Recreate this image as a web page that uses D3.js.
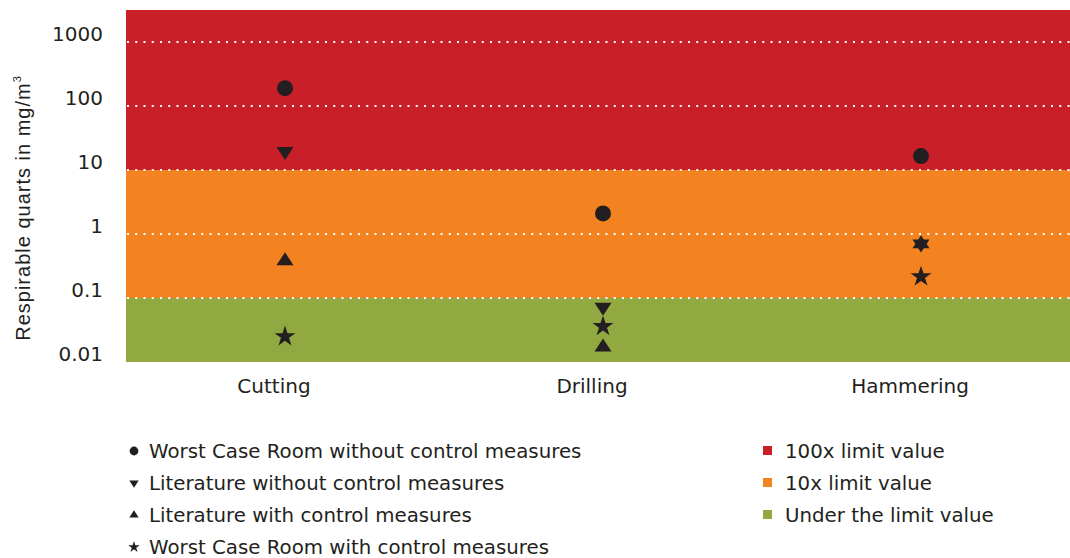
<!DOCTYPE html>
<html>
<head>
<meta charset="utf-8">
<script src="https://cdn.jsdelivr.net/npm/d3@7"></script>
<style>
  html, body { margin: 0; padding: 0; background: #fff; }
  svg { display: block; }
  text { fill: #231f20; }
</style>
</head>
<body>
<svg id="chart" width="1070" height="558"></svg>
<script>
// Activities (x categories)
const categories = ["Cutting", "Drilling", "Hammering"];

// Respirable quartz concentrations in mg/m3, one value per activity
const worstCaseWithout = [190, 2.1, 16.5];
const literatureWithout = [19.5, 0.072, 0.70];
const literatureWith = [0.38, 0.017, 0.70];
const worstCaseWith = [0.025, 0.036, 0.215];

// Axis ticks
const tickValues = [0.01, 0.1, 1, 10, 100, 1000];
const tickLabels = ["0.01", "0.1", "1", "10", "100", "1000"];
const gridValues = [0.1, 1, 10, 100, 1000];

// Exposure zones: [lower, upper] bounds
const zoneNames = ["100x limit value", "10x limit value", "Under the limit value"];
const zoneBounds = [[10, 3162.28], [0.1, 10], [0.01, 0.1]];
const zoneColors = ["#c81f28", "#f38220", "#92a840"];

const seriesNames = [
  "Worst Case Room without control measures",
  "Literature without control measures",
  "Literature with control measures",
  "Worst Case Room with control measures"
];
const seriesValues = [worstCaseWithout, literatureWithout, literatureWith, worstCaseWith];
const seriesShapes = ["circle", "down", "up", "star"];

const FONT = "DejaVu Sans, Verdana, sans-serif";

const svg = d3.select("#chart");
const plot = { left: 126, right: 1080, top: 10, bottom: 362 };

const x = d3.scaleBand().domain(categories).range([plot.left, plot.right]);
const y = d3.scaleLog().domain([0.01, 3162.28]).range([plot.bottom, plot.top]);

svg.append("defs").append("clipPath").attr("id", "plotclip")
  .append("rect").attr("x", plot.left).attr("y", plot.top)
  .attr("width", plot.right - plot.left).attr("height", plot.bottom - plot.top);

const area = svg.append("g").attr("clip-path", "url(#plotclip)");

// Coloured zone bands
area.selectAll("rect.zone").data(zoneBounds).join("rect")
  .attr("class", "zone")
  .attr("x", plot.left)
  .attr("width", plot.right - plot.left)
  .attr("y", d => y(d[1]))
  .attr("height", d => y(d[0]) - y(d[1]))
  .attr("fill", (d, i) => zoneColors[i]);

// Dotted gridlines
area.selectAll("line.grid").data(gridValues).join("line")
  .attr("class", "grid")
  .attr("x1", plot.left + 1).attr("x2", plot.right)
  .attr("y1", d => y(d)).attr("y2", d => y(d))
  .attr("stroke", "#fff").attr("stroke-width", 2)
  .attr("stroke-dasharray", "2 6.25");

// Y tick labels (baseline sits on the gridline)
svg.append("g").selectAll("text").data(tickValues).join("text")
  .attr("x", 103).attr("y", d => y(d) - 1)
  .attr("text-anchor", "end")
  .attr("font-family", FONT)
  .attr("font-size", 20)
  .text((d, i) => tickLabels[i]);

// Y axis title
const yTitle = svg.append("text")
  .attr("transform", "translate(30,208) rotate(-90)")
  .attr("text-anchor", "middle")
  .attr("font-family", "Liberation Sans, Arial, sans-serif")
  .attr("font-size", 20)
  .attr("letter-spacing", 1);
yTitle.append("tspan").text("Respirable quarts in mg/m");
yTitle.append("tspan").attr("dy", -9).attr("font-size", 11).text("3");

// Category labels
svg.append("g").selectAll("text").data(categories).join("text")
  .attr("x", d => x(d) + x.bandwidth() / 2 - 11)
  .attr("y", 393)
  .attr("text-anchor", "middle")
  .attr("font-family", FONT)
  .attr("font-size", 20)
  .text(d => d);

// Marker shapes scaled by s; triangles are centred on their centroid
function shapePath(shape, s) {
  if (shape === "circle") return d3.symbol(d3.symbolCircle, Math.PI * (8 * s) ** 2)();
  if (shape === "star") return d3.symbol(d3.symbolStar, (11 * s) ** 2 / 0.8908130915)();
  const w = 8.5 * s, h = 13 * s;
  const a = (2 * h) / 3, b = h / 3;
  if (shape === "up") return `M0,${-a}L${w},${b}L${-w},${b}Z`;
  return `M${-w},${-b}L${w},${-b}L0,${a}Z`;
}

// Data markers
const markers = svg.append("g");
seriesValues.forEach((vals, si) => {
  markers.selectAll(null).data(vals).join("path")
    .attr("transform", (d, i) => `translate(${x(categories[i]) + x.bandwidth() / 2},${y(d)})`)
    .attr("d", shapePath(seriesShapes[si], 1))
    .attr("fill", "#231f20");
});

// Legend: series
const legL = svg.append("g");
seriesNames.forEach((name, i) => {
  const ly = 451 + i * 32;
  legL.append("path")
    .attr("transform", `translate(134,${ly})`)
    .attr("d", shapePath(seriesShapes[i], 0.55))
    .attr("fill", "#231f20");
  legL.append("text")
    .attr("x", 149).attr("y", ly + 7)
    .attr("font-family", FONT)
    .attr("font-size", 19.8)
    .text(name);
});

// Legend: zones
const legR = svg.append("g");
zoneNames.forEach((name, i) => {
  const ly = 451 + i * 32;
  legR.append("rect")
    .attr("x", 763).attr("y", ly - 5).attr("width", 9).attr("height", 9)
    .attr("fill", zoneColors[i]);
  legR.append("text")
    .attr("x", 785).attr("y", ly + 7)
    .attr("font-family", FONT)
    .attr("font-size", 19.8)
    .text(name);
});
</script>
</body>
</html>
